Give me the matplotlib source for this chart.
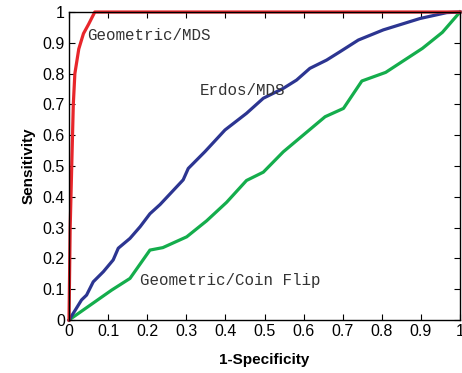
import matplotlib
matplotlib.use("Agg")
import matplotlib.pyplot as plt
import numpy as np

# Data
red_x = [0, 0.003, 0.007, 0.011, 0.015, 0.025, 0.037, 0.05, 0.066, 1.0]
red_y = [0, 0.30, 0.50, 0.70, 0.80, 0.88, 0.93, 0.96, 1.0, 1.0]

blue_x = [0, 0.015, 0.032, 0.045, 0.062, 0.088, 0.113, 0.126, 0.156, 0.182, 0.207, 0.233,
          0.292, 0.305, 0.348, 0.399, 0.454, 0.497, 0.548, 0.582, 0.616, 0.659, 0.693,
          0.740, 0.804, 0.898, 0.966, 1.0]
blue_y = [0, 0.03, 0.065, 0.081, 0.124, 0.157, 0.195, 0.233, 0.265, 0.303, 0.345, 0.375,
          0.455, 0.492, 0.547, 0.617, 0.671, 0.720, 0.752, 0.779, 0.817, 0.844, 0.871,
          0.909, 0.942, 0.979, 0.998, 1.0]

green_x = [0, 0.109, 0.156, 0.207, 0.240, 0.301, 0.352, 0.403, 0.454, 0.497, 0.548,
           0.655, 0.702, 0.749, 0.810, 0.904, 0.955, 1.0]
green_y = [0, 0.097, 0.135, 0.227, 0.235, 0.27, 0.322, 0.382, 0.453, 0.480, 0.546,
           0.660, 0.687, 0.776, 0.804, 0.882, 0.934, 1.0]

ticks = [0, 0.1, 0.2, 0.3, 0.4, 0.5, 0.6, 0.7, 0.8, 0.9, 1.0]
tick_labels = ["0", "0.1", "0.2", "0.3", "0.4", "0.5", "0.6", "0.7", "0.8", "0.9", "1"]

plt.rcParams['font.family'] = ['Liberation Sans', 'DejaVu Sans']

fig = plt.figure(figsize=(4.62, 3.73), dpi=100)
ax = fig.add_axes([69/462, 1 - 320/373, 391/462, 308/373])

ax.plot(green_x, green_y, color='#14ad4c', lw=2.3, solid_joinstyle='round', clip_on=False)
ax.plot(blue_x, blue_y, color='#2c3591', lw=2.3, solid_joinstyle='round', clip_on=False)
ax.plot(red_x, red_y, color='#e8262b', lw=2.3, solid_joinstyle='round', clip_on=False)

ax.set_xlim(0, 1)
ax.set_ylim(0, 1)
ax.set_xticks(ticks)
ax.set_xticklabels(tick_labels)
ax.set_yticks(ticks)
ax.set_yticklabels(tick_labels)
ax.tick_params(direction='in', top=True, right=True, labelsize=11.5, length=4, width=0.8, pad=3)
for s in ax.spines.values():
    s.set_linewidth(1.0)

ax.set_xlabel('1-Specificity', fontsize=11, fontweight='bold', labelpad=10)
ax.set_ylabel('Sensitivity', fontsize=11, fontweight='bold', labelpad=5)

mono = {'family': 'Liberation Mono', 'size': 11.4}
ax.text(0.046, 0.925, 'Geometric/MDS', va='center', ha='left', fontdict=mono, color='#333333')
ax.text(0.335, 0.744, 'Erdos/MDS', va='center', ha='left', fontdict=mono, color='#333333')
ax.text(0.182, 0.127, 'Geometric/Coin Flip', va='center', ha='left', fontdict=mono, color='#333333')

fig.savefig('out.png', dpi=100)
